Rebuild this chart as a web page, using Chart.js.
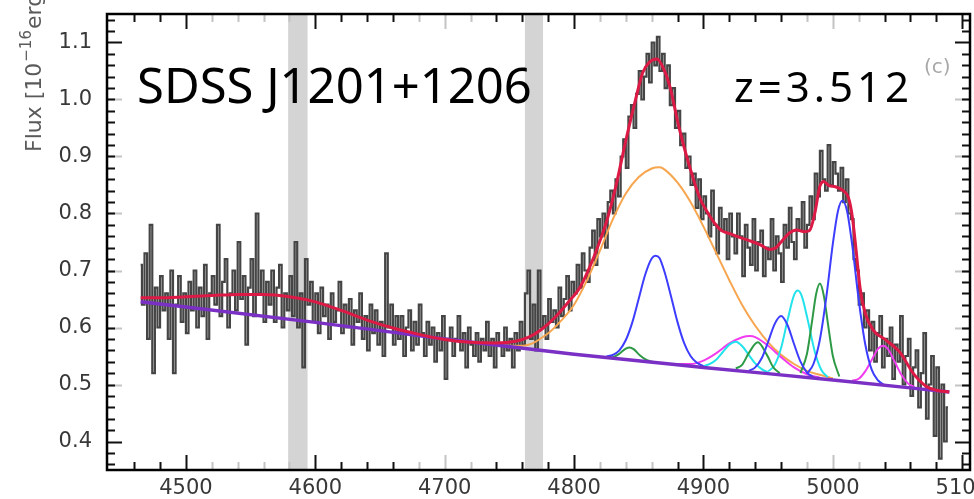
<!DOCTYPE html>
<html>
<head>
<meta charset="utf-8">
<script src="https://cdn.jsdelivr.net/npm/chart.js@4.4.1/dist/chart.umd.min.js"></script>
<style>
  html, body { margin: 0; padding: 0; background: #fff; }
</style>
</head>
<body>
<canvas id="chart" width="974" height="499"></canvas>
<script>
const objectName = "SDSS J1201+1206"
const redshiftLabel = "z=3.512"
const panelLabel = "(c)"

const xTicks = [4500, 4600, 4700, 4800, 4900, 5000, 5100]
const yTicks = [0.4, 0.5, 0.6, 0.7, 0.8, 0.9, 1.0, 1.1]

// masked regions (rest wavelength, A)
const maskBands = [[4579, 4594], [4762, 4776]]

// observed spectrum, one pixel every 2 A starting at 4465 A
const waveStart = 4465
const waveStep = 2
const flux = [
    0.71, 0.64, 0.73, 0.58, 0.78, 0.52, 0.67, 0.60, 0.69, 0.63,
    0.66, 0.58, 0.70, 0.52, 0.64, 0.69, 0.61, 0.66, 0.59, 0.68,
    0.63, 0.70, 0.60, 0.67, 0.62, 0.71, 0.58, 0.66, 0.69, 0.64,
    0.78, 0.62, 0.68, 0.72, 0.60, 0.66, 0.70, 0.63, 0.75, 0.65,
    0.69, 0.57, 0.67, 0.72, 0.62, 0.80, 0.66, 0.70, 0.61, 0.68,
    0.64, 0.70, 0.61, 0.67, 0.71, 0.60, 0.66, 0.63, 0.69, 0.62,
    0.75, 0.60, 0.66, 0.53, 0.72, 0.64, 0.68, 0.61, 0.66, 0.59,
    0.67, 0.62, 0.64, 0.58, 0.66, 0.61, 0.63, 0.68, 0.59, 0.64,
    0.60, 0.65, 0.57, 0.63, 0.61, 0.66, 0.58, 0.62, 0.56, 0.64,
    0.59, 0.63, 0.57, 0.61, 0.55, 0.73, 0.60, 0.64, 0.57, 0.62,
    0.58, 0.62, 0.55, 0.60, 0.63, 0.56, 0.61, 0.57, 0.64, 0.59,
    0.55, 0.61, 0.57, 0.60, 0.54, 0.59, 0.56, 0.62, 0.51, 0.58,
    0.60, 0.55, 0.58, 0.62, 0.56, 0.59, 0.53, 0.60, 0.57, 0.55,
    0.59, 0.54, 0.58, 0.56, 0.61, 0.55, 0.58, 0.53, 0.59, 0.57,
    0.55, 0.60, 0.56, 0.58, 0.53, 0.59, 0.56, 0.61, 0.57, 0.66,
    0.70, 0.58, 0.64, 0.56, 0.70, 0.60, 0.62, 0.58, 0.65, 0.61,
    0.63, 0.60, 0.67, 0.62, 0.65, 0.69, 0.63, 0.68, 0.66, 0.71,
    0.67, 0.73, 0.70, 0.68, 0.74, 0.77, 0.71, 0.79, 0.76, 0.80,
    0.74, 0.82, 0.84, 0.80, 0.86, 0.83, 0.90, 0.93, 0.88, 0.97,
    0.99, 0.95, 1.01, 1.05, 1.00, 1.04, 1.08, 1.03, 1.10, 1.06,
    1.11, 1.05, 1.08, 1.02, 1.06, 0.99, 1.02, 0.95, 0.98, 0.92,
    0.94, 0.88, 0.90, 0.85, 0.87, 0.81, 0.86, 0.79, 0.83, 0.80,
    0.76, 0.84, 0.78, 0.73, 0.81, 0.77, 0.79, 0.72, 0.80, 0.76,
    0.73, 0.80, 0.76, 0.69, 0.78, 0.74, 0.71, 0.79, 0.70, 0.75,
    0.77, 0.69, 0.74, 0.72, 0.79, 0.70, 0.76, 0.73, 0.68, 0.78,
    0.74, 0.81, 0.75, 0.72, 0.79, 0.77, 0.82, 0.74, 0.78, 0.83,
    0.79, 0.87, 0.83, 0.91, 0.86, 0.84, 0.92, 0.85, 0.89, 0.87,
    0.84, 0.88, 0.82, 0.86, 0.80, 0.79, 0.72, 0.70, 0.64, 0.66,
    0.60, 0.63, 0.56, 0.61, 0.54, 0.59, 0.62, 0.53, 0.58, 0.55,
    0.60, 0.51, 0.57, 0.54, 0.62, 0.50, 0.55, 0.58, 0.48, 0.53,
    0.56, 0.46, 0.52, 0.59, 0.44, 0.50, 0.55, 0.41, 0.53, 0.37,
    0.50, 0.40, 0.46
]

// power-law continuum
const continuum = [[4465, 0.645], [4500, 0.636], [4600, 0.609], [4700, 0.580],
    [4800, 0.553], [4900, 0.530], [5000, 0.508], [5090, 0.487]]

// total model
const totalModel = [[4465, 0.652], [4480, 0.652], [4500, 0.654], [4520, 0.656], [4540, 0.658],
    [4560, 0.658], [4580, 0.654], [4600, 0.645], [4620, 0.630], [4640, 0.613], [4660, 0.599],
    [4680, 0.588], [4700, 0.579], [4720, 0.574], [4740, 0.573], [4755, 0.576], [4765, 0.583],
    [4775, 0.597], [4785, 0.617], [4795, 0.643], [4805, 0.672], [4815, 0.722], [4820, 0.752],
    [4825, 0.785], [4832, 0.845], [4840, 0.928], [4847, 0.995], [4853, 1.047], [4858, 1.065],
    [4864, 1.071], [4869, 1.055], [4874, 1.023], [4881, 0.952], [4887, 0.900], [4892, 0.862],
    [4897, 0.828], [4902, 0.806], [4908, 0.785], [4914, 0.770], [4920, 0.765], [4928, 0.758],
    [4936, 0.752], [4944, 0.745], [4951, 0.737], [4956, 0.740], [4960, 0.750], [4966, 0.765],
    [4972, 0.771], [4978, 0.768], [4982, 0.770], [4986, 0.800], [4990, 0.848], [4993, 0.856],
    [4997, 0.849], [5002, 0.847], [5008, 0.840], [5012, 0.828], [5015, 0.795], [5018, 0.735],
    [5021, 0.670], [5025, 0.625], [5031, 0.596], [5041, 0.578], [5052, 0.556], [5062, 0.520],
    [5072, 0.497], [5080, 0.490], [5090, 0.487]]

// broad Hbeta
const hbBroad = [[4740, 0.569], [4760, 0.568], [4780, 0.590], [4790, 0.612], [4800, 0.640],
    [4810, 0.683], [4820, 0.735], [4830, 0.790], [4840, 0.835], [4850, 0.864], [4860, 0.879],
    [4866, 0.881], [4870, 0.877], [4880, 0.854], [4890, 0.820], [4900, 0.777], [4910, 0.730],
    [4920, 0.683], [4930, 0.639], [4940, 0.603], [4950, 0.574], [4960, 0.552], [4970, 0.536],
    [4980, 0.524], [4990, 0.517], [5000, 0.511]]

// narrow lines, blue
const hbNarrow = [[4825, 0.549], [4830, 0.552], [4835, 0.560], [4840, 0.578], [4845, 0.609],
    [4850, 0.651], [4855, 0.693], [4860, 0.721], [4863, 0.726], [4866, 0.722], [4870, 0.697],
    [4875, 0.654], [4880, 0.609], [4885, 0.573], [4890, 0.550], [4895, 0.538], [4900, 0.532]]
const oiii4959 = [[4935, 0.524], [4940, 0.530], [4945, 0.546], [4950, 0.575], [4955, 0.606],
    [4960, 0.620], [4965, 0.604], [4970, 0.571], [4975, 0.540], [4980, 0.521], [4985, 0.513]]
const oiii5007 = [[4980, 0.519], [4985, 0.536], [4990, 0.579], [4995, 0.654], [5000, 0.747],
    [5004, 0.805], [5007.5, 0.823], [5011, 0.804], [5015, 0.744], [5020, 0.648], [5025, 0.571],
    [5030, 0.526], [5035, 0.507], [5040, 0.499]]

// green components
const greenA = [[4825, 0.547], [4830, 0.548], [4835, 0.554], [4840, 0.563], [4843, 0.565],
    [4846, 0.562], [4851, 0.551], [4856, 0.543], [4862, 0.539]]
const greenB = [[4925, 0.528], [4930, 0.535], [4935, 0.555], [4942, 0.574], [4949, 0.552],
    [4954, 0.530], [4959, 0.520]]
const greenC = [[4975, 0.520], [4980, 0.554], [4984, 0.612], [4987, 0.658], [4990, 0.677],
    [4993, 0.656], [4996, 0.610], [5000, 0.550], [5005, 0.514]]

// cyan components
const cyanA = [[4900, 0.532], [4905, 0.536], [4910, 0.544], [4915, 0.557], [4920, 0.570],
    [4925, 0.575], [4930, 0.567], [4935, 0.552], [4940, 0.537], [4945, 0.527], [4950, 0.521]]
const cyanB = [[4950, 0.523], [4955, 0.534], [4960, 0.564], [4965, 0.613], [4970, 0.657],
    [4973, 0.665], [4976, 0.655], [4981, 0.609], [4986, 0.558], [4991, 0.526], [4996, 0.513]]

// magenta components
const magentaA = [[4880, 0.536], [4890, 0.536], [4900, 0.542], [4910, 0.555], [4920, 0.572],
    [4930, 0.583], [4936, 0.585], [4940, 0.583], [4950, 0.568], [4960, 0.548], [4970, 0.530],
    [4980, 0.518], [4990, 0.512]]
const magentaB = [[5015, 0.507], [5020, 0.510], [5025, 0.523], [5030, 0.543], [5035, 0.563],
    [5039, 0.568], [5043, 0.561], [5048, 0.539], [5053, 0.517], [5058, 0.502], [5063, 0.496]]

const spectrum = flux.map((f, i) => ({ x: waveStart + i * waveStep, y: f }))
const toPoints = arr => arr.map(p => ({ x: p[0], y: p[1] }))

function curve(label, pts, color, width, order) {
    return {
        label: label,
        data: toPoints(pts),
        borderColor: color,
        borderWidth: width,
        pointRadius: 0,
        fill: false,
        cubicInterpolationMode: 'monotone',
        order: order
    }
}

const ORANGE = '#f7a54e'
const BLUE = '#3d3dff'
const GREEN = '#2f9a45'
const CYAN = '#22e3ec'
const MAGENTA = '#f23cf0'

// grey bands behind the data
const bandPlugin = {
    id: 'bands',
    beforeDatasetsDraw(chart) {
        const { ctx, chartArea, scales } = chart
        ctx.save()
        ctx.fillStyle = '#d4d4d4'
        maskBands.forEach(b => {
            const x0 = scales.x.getPixelForValue(b[0])
            const x1 = scales.x.getPixelForValue(b[1])
            ctx.fillRect(x0, chartArea.top, x1 - x0, chartArea.bottom - chartArea.top)
        })
        ctx.restore()
    }
}

// faded tick marks
const lightX = [4520, 4540, 4560, 4580, 4680, 4700, 4720, 4820, 4840, 4860, 4980, 5000, 5020]
const lightY = [0.5, 0.6, 0.7, 0.8, 0.9, 1.0]

// inward ticks on all four sides + frame
const framePlugin = {
    id: 'frame',
    afterDatasetsDraw(chart) {
        const { ctx, chartArea: a, scales } = chart
        ctx.save()
        ctx.lineWidth = 2
        for (let w = 4460; w <= 5100; w += 20) {
            const px = Math.round(scales.x.getPixelForValue(w)) + 0.5
            const major = w % 100 === 0
            const len = major ? 15 : 8
            ctx.strokeStyle = lightX.includes(w) ? '#c4c4c4' : '#111'
            ctx.beginPath()
            ctx.moveTo(px, a.bottom); ctx.lineTo(px, a.bottom - len)
            ctx.moveTo(px, a.top); ctx.lineTo(px, a.top + len)
            ctx.stroke()
        }
        for (let k = 18; k <= 57; k++) {
            const v = k / 50
            const py = Math.round(scales.y.getPixelForValue(v)) + 0.5
            const major = k % 5 === 0
            const faded = major && lightY.some(t => Math.abs(t - v) < 1e-6)
            if (faded) {
                ctx.strokeStyle = '#c4c4c4'
                ctx.beginPath()
                ctx.moveTo(a.left, py); ctx.lineTo(a.left + 15, py)
                ctx.moveTo(a.right, py); ctx.lineTo(a.right - 15, py)
                ctx.stroke()
            }
            ctx.strokeStyle = '#111'
            const len = major && !faded ? 15 : 8
            ctx.beginPath()
            ctx.moveTo(a.left, py); ctx.lineTo(a.left + len, py)
            ctx.moveTo(a.right, py); ctx.lineTo(a.right - len, py)
            ctx.stroke()
        }
        ctx.lineWidth = 2.5
        ctx.strokeStyle = '#000'
        ctx.strokeRect(a.left, a.top, a.right - a.left, a.bottom - a.top)
        ctx.restore()
    }
}

// annotations and the rotated flux label
const textPlugin = {
    id: 'texts',
    afterDraw(chart) {
        const ctx = chart.ctx
        ctx.save()
        ctx.fillStyle = '#000'
        ctx.textBaseline = 'alphabetic'
        ctx.textAlign = 'left'
        ctx.font = '49px "Noto Sans"'
        ctx.fillText(objectName, 137, 103)
        ctx.font = '42px "Noto Sans"'
        ctx.letterSpacing = '4px'
        ctx.fillText(redshiftLabel, 734, 102)
        ctx.letterSpacing = '0px'
        ctx.fillStyle = '#a8a8a8'
        ctx.font = '20px "DejaVu Sans"'
        ctx.fillText(panelLabel, 924, 73)

        ctx.translate(41, 152)
        ctx.rotate(-Math.PI / 2)
        ctx.fillStyle = '#5a5a5a'
        ctx.font = '22px "DejaVu Sans"'
        const main = 'Flux [10'
        ctx.fillText(main, 0, 0)
        let w = ctx.measureText(main).width
        ctx.font = '15px "DejaVu Sans"'
        ctx.fillText('\u221216', w + 1, -10)
        w += ctx.measureText('\u221216').width + 2
        ctx.font = '22px "DejaVu Sans"'
        ctx.fillText('erg s', w, 0)
        ctx.restore()
    }
}

const tickFont = { family: 'DejaVu Sans', size: 21 }

const myChart = new Chart(document.getElementById('chart'), {
    type: 'line',
    data: {
        datasets: [
            curve('model', totalModel, '#dc1a45', 3, 0),
            curve('continuum', continuum, '#7a30c4', 3.5, 1),
            curve('oiii5007', oiii5007, BLUE, 2, 2),
            curve('oiii4959', oiii4959, BLUE, 2, 2),
            curve('hbNarrow', hbNarrow, BLUE, 2, 2),
            curve('greenA', greenA, GREEN, 2, 3),
            curve('greenB', greenB, GREEN, 2, 3),
            curve('greenC', greenC, GREEN, 2, 3),
            curve('cyanA', cyanA, CYAN, 2, 4),
            curve('cyanB', cyanB, CYAN, 2, 4),
            curve('magentaA', magentaA, MAGENTA, 2, 5),
            curve('magentaB', magentaB, MAGENTA, 2, 5),
            curve('hbBroad', hbBroad, ORANGE, 2, 6),
            {
                label: 'spectrum',
                data: spectrum,
                borderColor: '#454545',
                borderWidth: 2.2,
                pointRadius: 0,
                stepped: 'middle',
                fill: false,
                order: 10
            }
        ]
    },
    options: {
        responsive: false,
        animation: false,
        devicePixelRatio: 1,
        layout: { padding: { top: 14, right: 4, left: 0, bottom: 0 } },
        plugins: {
            legend: { display: false },
            tooltip: { enabled: false }
        },
        scales: {
            x: {
                type: 'linear',
                min: 4439,
                max: 5106,
                grid: { display: false, drawTicks: false },
                border: { display: false },
                afterBuildTicks: s => { s.ticks = xTicks.map(v => ({ value: v })) },
                ticks: {
                    autoSkip: false,
                    maxRotation: 0,
                    padding: 6,
                    color: '#383838',
                    font: tickFont,
                    callback: v => String(v)
                },
                afterFit: s => { s.height = 29; s.paddingLeft = 0; s.paddingRight = 0 }
            },
            y: {
                type: 'linear',
                min: 0.35,
                max: 1.15,
                grid: { display: false, drawTicks: false },
                border: { display: false },
                afterBuildTicks: s => { s.ticks = yTicks.map(v => ({ value: v })) },
                ticks: {
                    autoSkip: false,
                    padding: 15,
                    color: '#383838',
                    font: tickFont,
                    callback: v => v.toFixed(1)
                },
                afterFit: s => { s.width = 107; s.paddingTop = 0; s.paddingBottom = 0 }
            }
        }
    },
    plugins: [bandPlugin, framePlugin, textPlugin]
})
</script>
</body>
</html>
